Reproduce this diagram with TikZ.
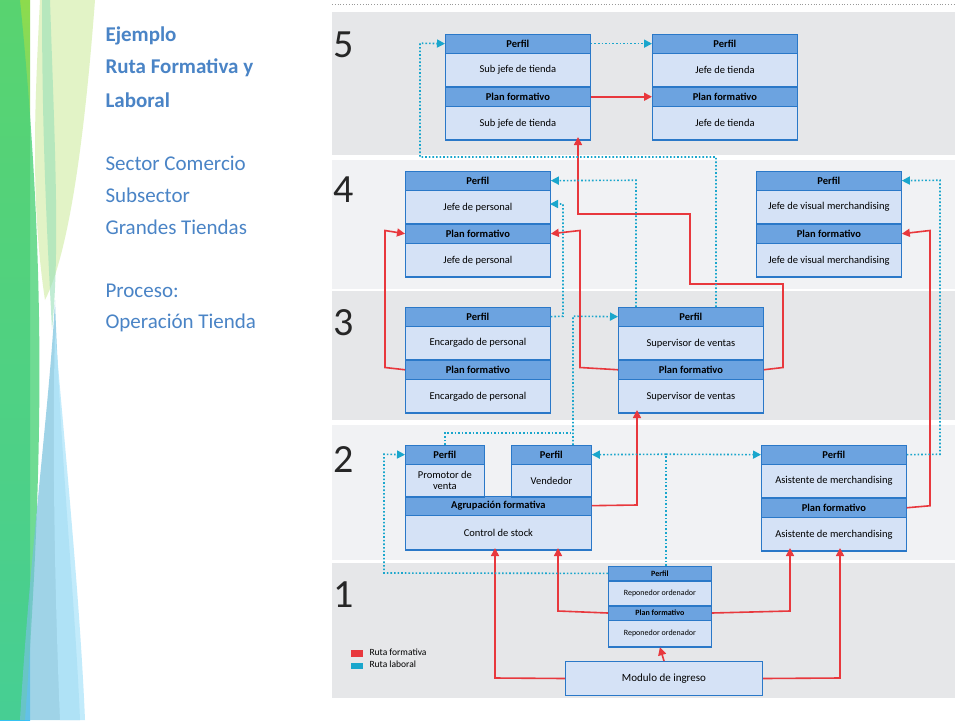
\documentclass[tikz,border=0pt]{standalone}
\usepackage{fontspec}
\setmainfont{Carlito}
\usetikzlibrary{arrows.meta}
\definecolor{hfill}{HTML}{6CA3E0}
\definecolor{bfill}{HTML}{D5E2F6}
\definecolor{bord}{HTML}{2A78C8}
\definecolor{bandA}{HTML}{E6E7E9}
\definecolor{bandB}{HTML}{F1F2F4}
\definecolor{rr}{HTML}{E8383D}
\definecolor{cc}{HTML}{1AA6CC}
\definecolor{tt}{HTML}{4A84C6}
\newcommand\jbox[6]{%
 \node[hdr, minimum width=#4, anchor=north west] (#1p) at (#2,#3) {Perfil};
 \node[body, minimum width=#4, anchor=north] (#1pt) at (#1p.south) {#5};
 \node[hdr, minimum width=#4, anchor=north] (#1f) at (#1pt.south) {Plan formativo};
 \node[body, minimum width=#4, anchor=north] (#1ft) at (#1f.south) {#6};
 \draw[bord, line width=1pt] (#1p.north west) rectangle (#1ft.south east);}
\begin{document}
\begin{tikzpicture}[x=1pt,y=-1pt,
 hdr/.style={draw=bord, fill=hfill, line width=0.8pt, font=\bfseries\fontsize{10.5}{12}\selectfont, minimum height=18.5, inner sep=0},
 body/.style={draw=bord, fill=bfill, line width=0.8pt, font=\fontsize{10.5}{12}\selectfont, minimum height=33, inner sep=0, align=center},
 ra/.style={draw=rr, line width=1.6pt, -{Triangle[length=8pt,width=8pt]}},
 ca/.style={draw=cc, line width=1.6pt, dotted, -{Triangle[length=8pt,width=8pt]}},
 cl/.style={draw=cc, line width=1.6pt, dotted},
 lvl/.style={font=\fontsize{40}{40}\selectfont, text=black!85, anchor=west},
 side/.style={text=tt, anchor=west, font=\fontsize{21}{24}\selectfont}]
\useasboundingbox (0,0) rectangle (960,720);
\fill[white] (0,0) rectangle (960,720);
% left decoration
\shade[top color=green!55!yellow!80!black!70, bottom color=cyan!70!blue!80] (0,0) rectangle (30,720);
\fill[green!50!teal!70, opacity=0.8] (20,0) .. controls (45,250) and (45,450) .. (25,720) -- (0,720) -- (0,0) -- cycle;
\fill[yellow!50!green!25, opacity=0.9] (40,0) -- (95,0) .. controls (80,200) and (60,270) .. (45,300) .. controls (30,200) and (35,100) .. (40,0);
\fill[cyan!60!teal!60, opacity=0.7] (20,720) .. controls (30,550) and (50,400) .. (55,300) .. controls (60,450) and (75,600) .. (80,720) -- cycle;
\fill[cyan!30, opacity=0.8] (60,720) .. controls (55,600) and (52,450) .. (55,330) .. controls (65,450) and (80,600) .. (85,720) -- cycle;
\fill[green!40!teal!40, opacity=0.6] (50,0) .. controls (55,150) and (60,250) .. (52,330) .. controls (48,250) and (42,150) .. (42,0) -- cycle;
% side text
\node[side, font=\bfseries\fontsize{21}{24}\selectfont] (s1) at (102,36) {Ejemplo};
\node[side, font=\bfseries\fontsize{21}{24}\selectfont] (s2) at (102,68) {Ruta Formativa y};
\node[side, font=\bfseries\fontsize{21}{24}\selectfont] (s3) at (102,100) {Laboral};
\node[side] (s4) at (102,163) {Sector Comercio};
\node[side] (s5) at (102,195) {Subsector};
\node[side] (s6) at (102,227) {Grandes Tiendas};
\node[side] (s7) at (102,291) {Proceso:};
\node[side] (s8) at (102,323) {Operación Tienda};
% bands
\fill[bandA] (332,12) rectangle (955,155);
\fill[bandB] (332,160) rectangle (955,289);
\fill[bandA] (332,291) rectangle (955,420);
\fill[bandB] (332,425) rectangle (955,560);
\fill[bandA] (332,563) rectangle (955,698);
\draw[black!40, dotted, line width=0.8pt] (332,4) -- (955,4);
\node[lvl] (n5) at (330,45) {5};
\node[lvl] (n4) at (330,190) {4};
\node[lvl] (n3) at (330,323) {3};
\node[lvl] (n2) at (330,460) {2};
\node[lvl] (n1) at (330,595) {1};
% boxes
\jbox{sj}{445}{34}{145}{Sub jefe de tienda}{Sub jefe de tienda}
\jbox{jt}{652}{34}{145}{Jefe de tienda}{Jefe de tienda}
\jbox{jp}{405}{171}{145}{Jefe de personal}{Jefe de personal}
\jbox{jv}{756}{171}{145}{Jefe de visual merchandising}{Jefe de visual merchandising}
\jbox{en}{405}{307}{145}{Encargado de personal}{Encargado de personal}
\jbox{su}{618}{307}{145}{Supervisor de ventas}{Supervisor de ventas}
\jbox{as}{761}{445}{145}{Asistente de merchandising}{Asistente de merchandising}
% level 2 group
\node[hdr, minimum width=79, anchor=north west] (prp) at (405,445) {Perfil};
\node[body, minimum width=79, minimum height=32, anchor=north, font=\fontsize{10.5}{11}\selectfont] (prt) at (prp.south) {Promotor de\\venta};
\node[hdr, minimum width=80, anchor=north west] (vep) at (511,445) {Perfil};
\node[body, minimum width=80, minimum height=32, anchor=north] (vet) at (vep.south) {Vendedor};
\node[hdr, minimum width=186, anchor=north west] (agf) at (405,496) {Agrupación formativa};
\node[body, minimum width=186, minimum height=34, anchor=north] (agt) at (agf.south) {Control de stock};
\draw[bord, line width=1pt] (prp.north west) rectangle (prt.south east) (vep.north west) rectangle (vet.south east) (agf.north west) rectangle (agt.south east);
% level 1
\node[hdr, minimum width=103, minimum height=14, anchor=north west, font=\bfseries\fontsize{8}{9}\selectfont] (rpp) at (608,566) {Perfil};
\node[body, minimum width=103, minimum height=24, anchor=north, font=\fontsize{8}{9}\selectfont] (rpt) at (rpp.south) {Reponedor ordenador};
\node[hdr, minimum width=103, minimum height=14, anchor=north, font=\bfseries\fontsize{8}{9}\selectfont] (rpf) at (rpt.south) {Plan formativo};
\node[body, minimum width=103, minimum height=26, anchor=north, font=\fontsize{8}{9}\selectfont] (rpft) at (rpf.south) {Reponedor ordenador};
\draw[bord, line width=1pt] (rpp.north west) rectangle (rpft.south east);
\node[body, minimum width=197, minimum height=34, anchor=north west, line width=1pt, font=\fontsize{11}{12}\selectfont] (mod) at (565,661) {Modulo de ingreso};
% legend
\fill[rr] (351,650) rectangle (363,657);
\fill[cc] (351,663) rectangle (363,669);
\node[anchor=west, font=\fontsize{9.5}{10}\selectfont] (lg1) at (366,652) {Ruta formativa};
\node[anchor=west, font=\fontsize{9.5}{10}\selectfont] (lg2) at (366,664) {Ruta laboral};
% red arrows
\draw[ra] (sjf.east) -- (jtf.west);
\draw[ra] (suf.east) -- (783,367.5) -- (783,284) -- (690,284) -- (690,214) -- (578,214) -- (578,137);
\draw[ra] (enf.west) -- (385,367.5) -- (385,230.5) -- (jpf.west);
\draw[ra] (suf.west) -- (580,367.5) -- (580,230.5) -- (jpf.east);
\draw[ra] (asf.east) -- (930,505.75) -- (930,230.5) -- (jvf.east);
\draw[ra] (agf.east) -- (637,505) -- (637,410);
\draw[ra] (mod.west) -- (495,678) -- (495,548);
\draw[ra] (rpf.west) -- (558,611) -- (558,548);
\draw[ra] (rpf.east) -- (790,611) -- (790,548);
\draw[ra] (mod.east) -- (840,678) -- (840,548);
\draw[ra] (mod.north) -- (rpft.south);
% cyan arrows
\draw[ca] (716,307) -- (716,157) -- (420,157) -- (420,43.25) -- (sjp.west);
\draw[ca] (sjp.east) -- (jtp.west);
\draw[ca] (636,307) -- (636,180.25) -- (jpp.east);
\draw[ca] (enp.east) -- (563,316.25) -- (563,204) -- (550,204);
\draw[ca] (573,445) -- (573,316.25) -- (sup.west);
\draw[cl] (445,445) -- (445,433) -- (573,433);
\draw[ca] (rpp.west) -- (384,573) -- (384,454.25) -- (prp.west);
\draw[cl] (666,566) -- (666,454.25);
\draw[ca] (666,454.25) -- (vep.east);
\draw[ca] (666,454.25) -- (asp.west);
\draw[ca] (asp.east) -- (940,454.25) -- (940,180.25) -- (jvp.east);
\end{tikzpicture}
\end{document}
